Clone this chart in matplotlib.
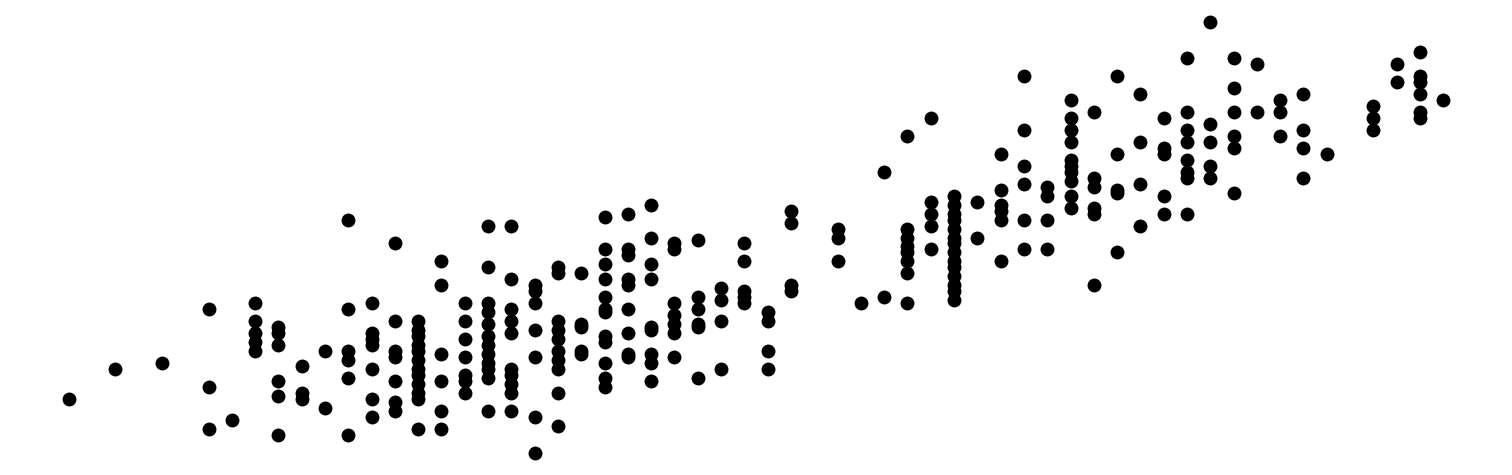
import matplotlib
matplotlib.use("Agg")
import matplotlib.pyplot as plt

# Flipper length (mm) columns and body mass (g) values
flipper_values = [172, 174, 176, 178, 179, 180, 181, 182, 183, 184, 185, 186, 187, 188,
                  189, 190, 191, 192, 193, 194, 195, 196, 197, 198, 199, 200, 201, 202,
                  203, 205, 206, 207, 208, 209, 210, 211, 212, 213, 214, 215, 216, 217,
                  218, 219, 220, 221, 222, 223, 224, 225, 226, 228, 229, 230, 231]

body_mass_by_flipper = [
    [3150],
    [3400],
    [3450],
    [3900, 3250, 2900],
    [2975],
    [3950, 3800, 3700, 3625, 3550],
    [3750, 3700, 3600, 3300, 3175, 2850],
    [3425, 3200, 3150],
    [3550, 3075],
    [4650, 3900, 3550, 3475, 3325, 2850],
    [3950, 3700, 3650, 3600, 3400, 3150, 3000],
    [4450, 3800, 3550, 3500, 3300, 3125, 3050],
    [3800, 3725, 3675, 3600, 3550, 3475, 3400, 3350, 3275, 3200, 3150, 2900],
    [4300, 4100, 3525, 3300, 3050, 2900],
    [3950, 3800, 3650, 3500, 3350, 3300, 3200],
    [4600, 4250, 3950, 3875, 3775, 3675, 3600, 3525, 3450, 3400, 3325, 3050],
    [4600, 4150, 3900, 3800, 3700, 3400, 3350, 3275, 3200, 3050],
    [4100, 4050, 3950, 3725, 3500, 3000, 2700],
    [4250, 4200, 3800, 3725, 3650, 3550, 3475, 3400, 3200, 2925],
    [4200, 3775, 3750, 3550, 3525],
    [4675, 4400, 4275, 4150, 4000, 3900, 3875, 3675, 3625, 3450, 3325, 3250],
    [4700, 4400, 4350, 4150, 4100, 3900, 3700, 3525, 3500],
    [4775, 4500, 4275, 4150, 3750, 3725, 3525, 3450, 3300],
    [4450, 4400, 3950, 3850, 3775, 3700, 3500],
    [4475, 4000, 3900, 3775, 3750, 3325],
    [4075, 3975, 3800, 3400],
    [4450, 4300, 4050, 4000, 3950],
    [3875, 3800, 3550, 3400],
    [4725, 4625, 4100, 4050],
    [4575, 4500, 4300],
    [3950],
    [5050, 4000],
    [5350, 4575, 4500, 4425, 4375, 4300, 4200, 3950],
    [5500, 4800, 4700, 4600, 4400],
    [4850, 4775, 4700, 4650, 4575, 4500, 4450, 4375, 4300, 4250, 4175, 4100, 4050, 3975],
    [4800, 4500],
    [5200, 4900, 4775, 4725, 4650, 4300],
    [5850, 5400, 5100, 4950, 4650, 4400],
    [4925, 4850, 4650, 4400],
    [5650, 5500, 5400, 5300, 5150, 5100, 5050, 4975, 4850, 4750],
    [5550, 5000, 4925, 4750, 4700, 4100],
    [5850, 5200, 4900, 4875, 4375],
    [5700, 5300, 4950, 4600],
    [5500, 5250, 5200, 4850, 4700],
    [6000, 5550, 5400, 5300, 5150, 5050, 5000, 4700],
    [6300, 5450, 5300, 5100, 5000],
    [6000, 5750, 5550, 5350, 5250, 4875],
    [5950, 5550],
    [5650, 5550, 5350],
    [5700, 5400, 5250, 5000],
    [5200],
    [5600, 5500, 5400],
    [5950, 5800],
    [6050, 5850, 5800, 5700, 5550, 5500],
    [5650],
]

x = []
y = []
for f, masses in zip(flipper_values, body_mass_by_flipper):
    for m in masses:
        x.append(f)
        y.append(m)

fig = plt.figure(figsize=(15.12, 4.75), dpi=100)
ax = fig.add_axes([0, 0, 1, 1])
ax.scatter(x, y, s=100, color="black", linewidths=0)
ax.axis("off")
fig.savefig("out.png", dpi=100)
